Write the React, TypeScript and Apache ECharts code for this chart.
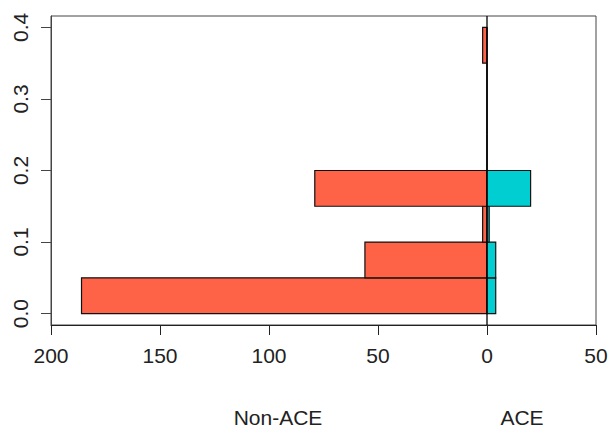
import React, { useEffect, useRef } from "react";
import * as echarts from "echarts";

// Bin edges of the histogram (y direction)
const binStarts = [0.0, 0.05, 0.1, 0.15, 0.2, 0.25, 0.3, 0.35];
const binEnds = [0.05, 0.1, 0.15, 0.2, 0.25, 0.3, 0.35, 0.4];
// Counts per bin
const nonAceCounts = [186, 56, 2, 79, 0, 0, 0, 2];
const aceCounts = [4, 4, 1, 20, 0, 0, 0, 0];
// Axis ranges and tick labels
const xRange = [-200, 50];
const yRange = [-0.016, 0.416];
const yTicks = [0, 0.1, 0.2, 0.3, 0.4];
const groupLabels = ["Non-ACE", "ACE"];

const FONT = "'Liberation Sans', Arial, Helvetica, sans-serif";

export default function App() {
  const ref = useRef<HTMLDivElement>(null);

  useEffect(() => {
    if (!ref.current) return;
    const chart = echarts.init(ref.current, undefined, { renderer: "svg" });

    const nonAceData = binStarts.map((s, i) => [s, binEnds[i], -nonAceCounts[i]]);
    const aceData = binStarts.map((s, i) => [s, binEnds[i], aceCounts[i]]);

    const makeRender = (fill: string) => (params: any, api: any) => {
      const y0 = api.value(0);
      const y1 = api.value(1);
      const v = api.value(2);
      const p0 = api.coord([0, y0]);
      const p1 = api.coord([v, y1]);
      return {
        type: "rect",
        shape: {
          x: Math.min(p0[0], p1[0]),
          y: Math.min(p0[1], p1[1]),
          width: Math.abs(p1[0] - p0[0]),
          height: Math.abs(p1[1] - p0[1]),
        },
        style: { fill, stroke: "#111", lineWidth: 1.2 },
      };
    };

    chart.setOption({
      animation: false,
      grid: {
        left: 51,
        right: 15,
        top: 16,
        bottom: 103,
        show: true,
        borderColor: "#444",
        borderWidth: 1,
        backgroundColor: "transparent",
      },
      xAxis: {
        type: "value",
        min: xRange[0],
        max: xRange[1],
        interval: 50,
        splitLine: { show: false },
        axisLine: { show: true, onZero: false, lineStyle: { color: "#222", width: 1 } },
        axisTick: { show: true, inside: false, length: 10, lineStyle: { color: "#222" } },
        axisLabel: {
          show: true,
          margin: 20,
          fontSize: 21,
          fontFamily: FONT,
          color: "#222",
          formatter: (v: number) => String(Math.abs(v)),
        },
      },
      yAxis: {
        type: "value",
        min: yRange[0],
        max: yRange[1],
        splitLine: { show: false },
        axisLine: { show: true, onZero: false, lineStyle: { color: "#444", width: 1 } },
        axisTick: {
          show: true,
          inside: false,
          length: 10,
          customValues: yTicks,
          lineStyle: { color: "#444" },
        },
        axisLabel: {
          show: true,
          customValues: yTicks,
          rotate: 90,
          margin: 20,
          fontSize: 21,
          fontFamily: FONT,
          color: "#222",
          formatter: (v: number) => v.toFixed(1),
        },
      },
      series: [
        {
          type: "custom",
          name: groupLabels[0],
          renderItem: makeRender("#FF6347"),
          encode: { x: 2, y: [0, 1] },
          data: nonAceData,
          clip: true,
          z: 2,
        },
        {
          type: "custom",
          name: groupLabels[1],
          renderItem: makeRender("#00CED1"),
          encode: { x: 2, y: [0, 1] },
          data: aceData,
          clip: true,
          z: 3,
        },
        {
          type: "line",
          name: "zero",
          data: [
            [0, yRange[0]],
            [0, yRange[1]],
          ],
          symbol: "none",
          silent: true,
          lineStyle: { color: "#000", width: 1.3 },
          z: 4,
        },
      ],
      graphic: [
        {
          type: "text",
          x: 278,
          y: 417,
          style: {
            text: groupLabels[0],
            fontSize: 21,
            lineHeight: 20,
            fontFamily: FONT,
            fill: "#222",
            align: "center",
            verticalAlign: "middle",
          },
        },
        {
          type: "text",
          x: 522,
          y: 417,
          style: {
            text: groupLabels[1],
            fontSize: 21,
            lineHeight: 20,
            fontFamily: FONT,
            fill: "#222",
            align: "center",
            verticalAlign: "middle",
          },
        },
      ],
    });

    return () => chart.dispose();
  }, []);

  return (
    <div
      ref={ref}
      style={{ position: "fixed", left: 0, top: 0, width: 611, height: 428, background: "#fff" }}
    />
  );
}
